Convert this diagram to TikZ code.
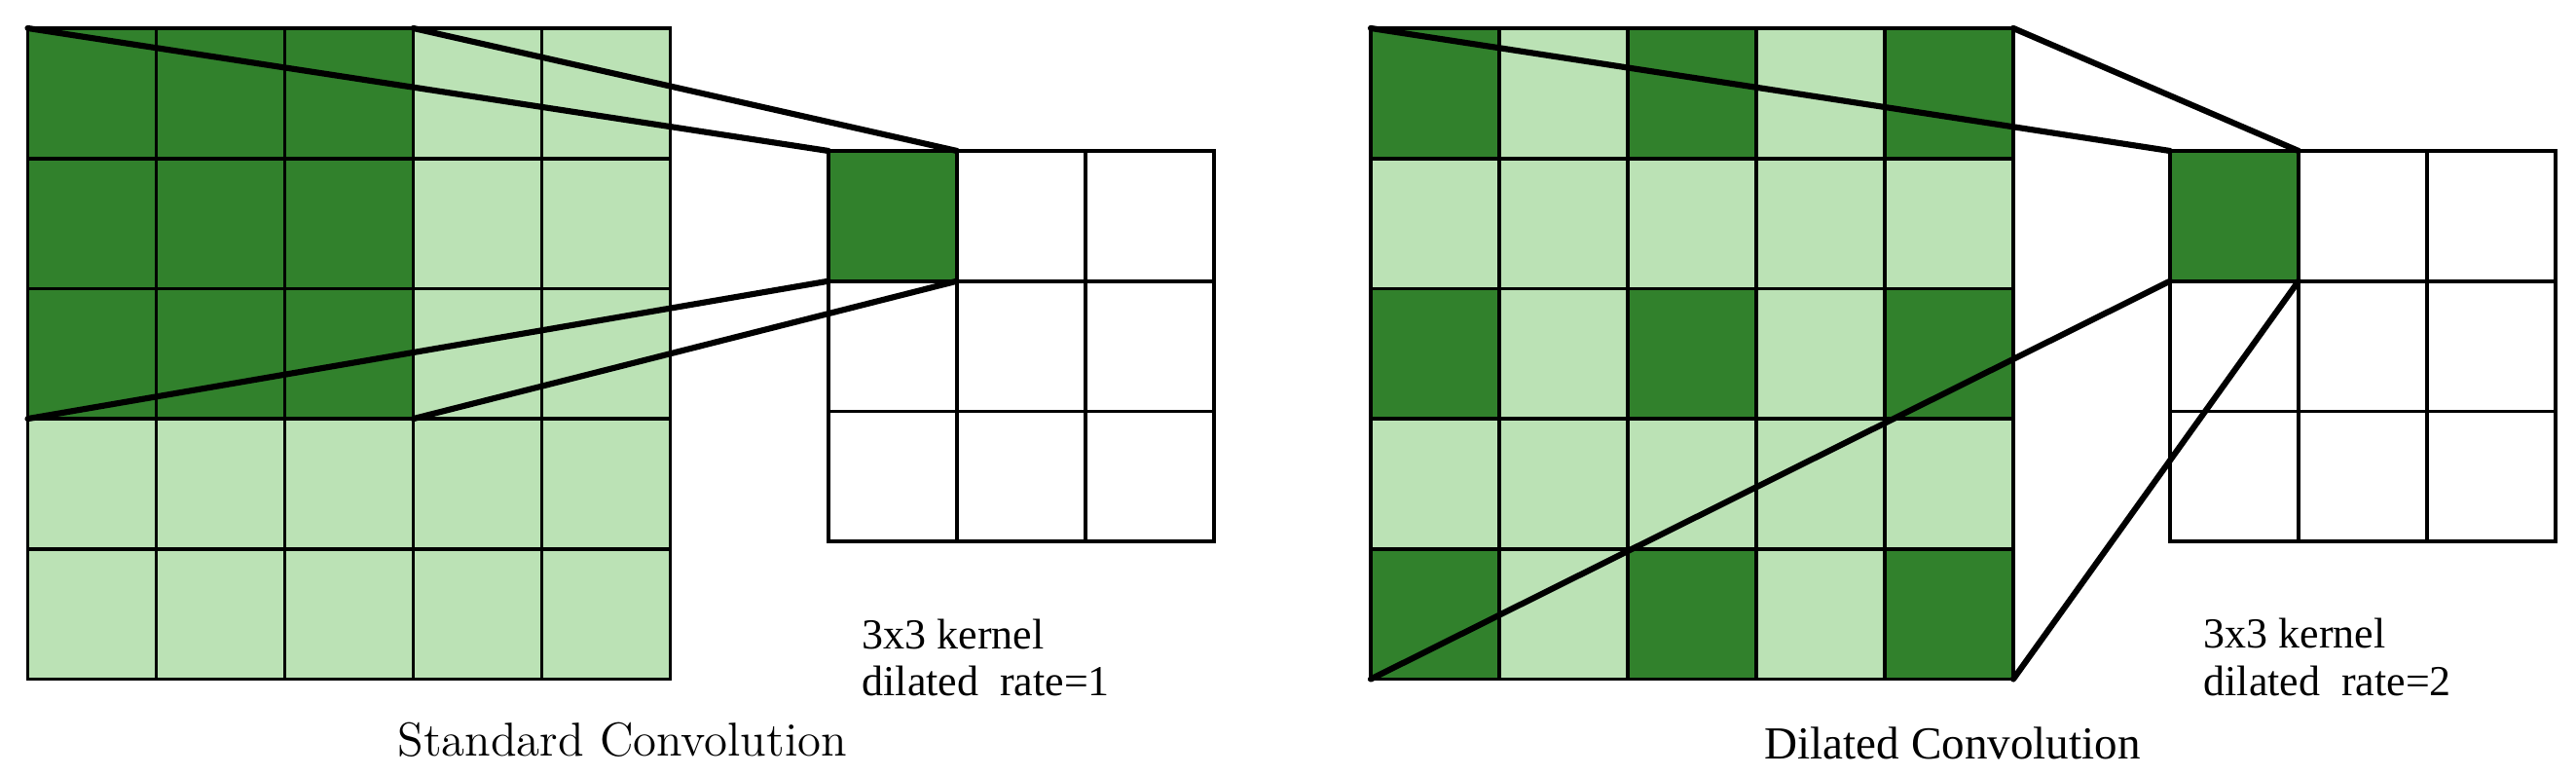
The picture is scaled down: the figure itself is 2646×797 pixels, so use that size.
\documentclass[tikz,border=0pt]{standalone}
\usepackage{fontspec}
\newfontfamily\timesf{Liberation Serif}
\definecolor{darkg}{RGB}{49,129,44}
\definecolor{lightg}{RGB}{187,226,181}
\begin{document}
\begin{tikzpicture}[x=0.1mm,y=-0.1mm,
  cell/.style={draw=black,line width=1.05pt,minimum width=13.2mm,minimum height=13.37mm,
    inner sep=0pt,outer sep=0pt,anchor=north west},
  link/.style={line width=1.75pt,line cap=round},
  lbl/.style={inner sep=0pt,anchor=base west,font=\timesf\fontsize{12.5pt}{14pt}\selectfont},
  ttl/.style={inner sep=0pt,anchor=base west}]
\useasboundingbox (0,0) rectangle (2646,797);
% Standard convolution input grid
\foreach \r in {0,...,4}{\foreach \c in {0,...,4}{
  \def\fc{lightg}
  \ifnum\r<3 \ifnum\c<3 \def\fc{darkg}\fi\fi
  \node[cell,fill=\fc] (L-\r-\c) at (28.5+132*\c, 29+133.7*\r) {};
}}
% Dilated convolution input grid
\foreach \r in {0,...,4}{\foreach \c in {0,...,4}{
  \def\fc{lightg}
  \ifodd\r\else\ifodd\c\else\def\fc{darkg}\fi\fi
  \node[cell,fill=\fc] (R-\r-\c) at (1408+132*\c, 29+133.7*\r) {};
}}
% Kernels
\foreach \r in {0,...,2}{\foreach \c in {0,...,2}{
  \def\fc{white}
  \ifnum\r=0 \ifnum\c=0 \def\fc{darkg}\fi\fi
  \node[cell,fill=\fc] (A-\r-\c) at (851+132*\c, 155+133.7*\r) {};
  \node[cell,fill=\fc] (B-\r-\c) at (2229+132*\c, 155+133.7*\r) {};
}}
% Connectors
\draw[link] (L-0-0.north west) -- (A-0-0.north west);
\draw[link] (L-0-2.north east) -- (A-0-0.north east);
\draw[link] (L-2-0.south west) -- (A-0-0.south west);
\draw[link] (L-2-2.south east) -- (A-0-0.south east);
\draw[link] (R-0-0.north west) -- (B-0-0.north west);
\draw[link] (R-0-4.north east) -- (B-0-0.north east);
\draw[link] (R-4-0.south west) -- (B-0-0.south west);
\draw[link] (R-4-4.south east) -- (B-0-0.south east);
% Labels
\node[lbl] (k1a) at (885,667) {3x3 kernel};
\node[lbl] (k1b) at (885,715) {dilated\ \ rate=1};
\node[lbl] (k2a) at (2263,666) {3x3 kernel};
\node[lbl] (k2b) at (2263,715) {dilated\ \ rate=2};
\node[ttl,font=\fontsize{13.9pt}{15pt}\selectfont] (t1) at (408,777) {Standard Convolution};
\node[ttl,font=\timesf\fontsize{13.4pt}{15pt}\selectfont] (t2) at (1812,780) {Dilated Convolution};
\end{tikzpicture}
\end{document}
